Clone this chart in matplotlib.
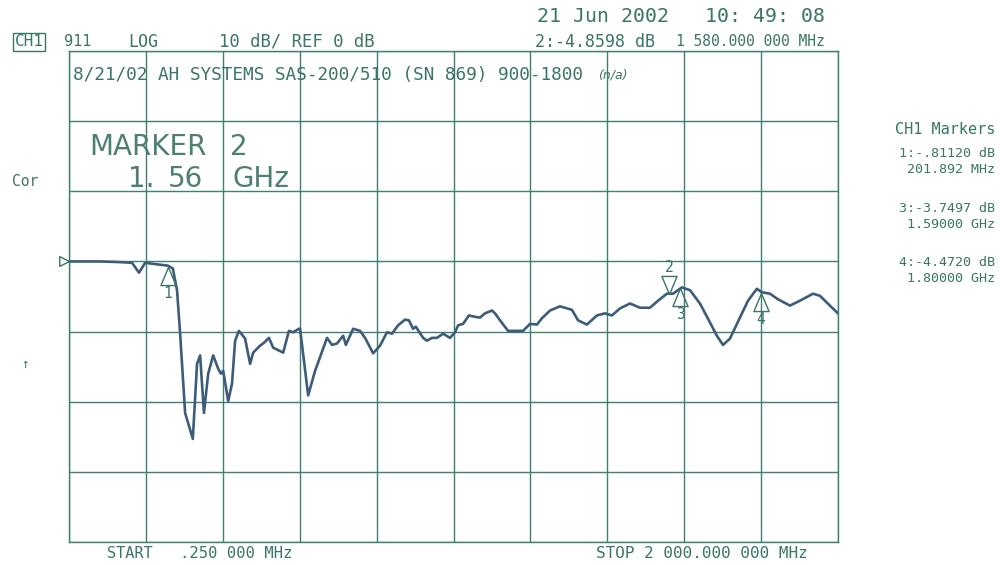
import numpy as np
import matplotlib
matplotlib.use("Agg")
import matplotlib.pyplot as plt
from matplotlib.path import Path

# ---------------- data ----------------
freq_mhz = [0.25, 81, 133, 164, 182, 198, 257, 270, 281, 289, 302, 322, 333, 341,
            351, 362, 375, 388, 395, 401, 414, 424, 432, 442, 458, 471, 479, 497,
            507, 520, 531, 557, 572, 583, 598, 601, 622, 640, 671, 684, 697, 713,
            720, 739, 757, 770, 791, 809, 827, 840, 856, 874, 884, 895, 902, 921,
            931, 944, 957, 973, 991, 1004, 1012, 1025, 1040, 1056, 1069, 1082,
            1100, 1108, 1121, 1142, 1165, 1181, 1199, 1217, 1230, 1251, 1277,
            1308, 1324, 1347, 1373, 1394, 1412, 1433, 1459, 1485, 1511, 1532,
            1555, 1571, 1594, 1615, 1641, 1667, 1685, 1701, 1719, 1745, 1766,
            1789, 1802, 1823, 1844, 1875, 1901, 1935, 1953, 1979, 2000]
mag_db = [0.0, 0.0, -0.1, -0.2, -1.6, -0.2, -0.6, -1.0, -4.1, -10.3, -21.6, -25.3,
          -14.6, -13.4, -21.6, -16.0, -13.4, -15.3, -16.0, -15.6, -19.9, -17.4,
          -11.3, -9.9, -11.0, -14.6, -13.0, -12.0, -11.6, -10.9, -12.3, -13.0,
          -9.9, -10.1, -9.6, -9.6, -19.1, -15.6, -10.9, -11.9, -11.7, -10.6,
          -11.9, -9.6, -9.9, -10.9, -13.1, -12.0, -10.1, -10.3, -9.1, -8.3, -8.4,
          -9.6, -9.3, -10.9, -11.3, -10.9, -10.9, -10.3, -10.9, -10.1, -9.1,
          -8.9, -7.7, -7.9, -8.0, -7.4, -7.0, -7.4, -8.4, -9.9, -9.9, -9.9, -8.9,
          -9.0, -8.1, -7.0, -6.4, -6.9, -8.4, -9.0, -7.7, -7.4, -7.7, -6.7, -6.0,
          -6.6, -6.6, -5.6, -4.6, -4.6, -3.7, -4.1, -6.0, -8.7, -10.6, -11.9,
          -11.0, -8.0, -5.6, -3.9, -4.4, -4.6, -5.4, -6.3, -5.6, -4.6, -4.9,
          -6.3, -7.4]

marker_labels = ["1", "2", "3", "4"]
marker_mhz = [257, 1560, 1590, 1800]
marker_db = [-0.81, -4.66, -3.75, -4.47]

x_start, x_stop = 0.25, 2000.0
ref_db, db_per_div = 0.0, 10.0
y_bottom, y_top = -40.0, 30.0

readout_lines = ["1:-.81120 dB", "201.892 MHz",
                 "3:-3.7497 dB", "1.59000 GHz",
                 "4:-4.4720 dB", "1.80000 GHz"]

# ---------------- style ----------------
GRID = "#3f7f70"
TEXT = "#3a7565"
TRACE = "#3c5c7a"
MONO = "DejaVu Sans Mono"

fig = plt.figure(figsize=(10, 5.65), dpi=100)
fig.patch.set_facecolor("white")
W, H = 1000.0, 565.0
ax = fig.add_axes([69 / W, 1 - 542 / H, 769 / W, 491 / H])
ax.set_xlim(x_start, x_stop)
ax.set_ylim(y_bottom, y_top)
ax.set_xticks(np.linspace(0, 2000, 11))
ax.set_yticks(np.arange(y_bottom, y_top + 1, db_per_div))
ax.tick_params(length=0, labelbottom=False, labelleft=False)
ax.grid(True, color=GRID, linewidth=1.0)
for s in ax.spines.values():
    s.set_color(GRID)
    s.set_linewidth(1.0)

ax.plot(freq_mhz, mag_db, color=TRACE, linewidth=1.9, solid_joinstyle="round", zorder=3)

# marker triangles
up_tri = Path([(0, 0), (-0.42, -1), (0.42, -1), (0, 0)],
              [Path.MOVETO, Path.LINETO, Path.LINETO, Path.CLOSEPOLY])
down_tri = Path([(0, 0), (-0.42, 1), (0.42, 1), (0, 0)],
                [Path.MOVETO, Path.LINETO, Path.LINETO, Path.CLOSEPOLY])
for lab, mx, my in zip(marker_labels, marker_mhz, marker_db):
    if lab == "2":
        ax.plot([mx], [my], marker=down_tri, markersize=26, markerfacecolor="none",
                markeredgecolor=TEXT, markeredgewidth=1.0, zorder=4)
        ax.annotate(lab, (mx, my), xytext=(0, 19), textcoords="offset points",
                    ha="center", va="center", color=TEXT, fontsize=10.5, family=MONO)
    else:
        ax.plot([mx], [my], marker=up_tri, markersize=26, markerfacecolor="none",
                markeredgecolor=TEXT, markeredgewidth=1.0, zorder=4)
        ax.annotate(lab, (mx, my), xytext=(0, -19), textcoords="offset points",
                    ha="center", va="center", color=TEXT, fontsize=10.5, family=MONO)

# reference level pointer
ref_tri = Path([(0, 0), (-1, 0.5), (-1, -0.5), (0, 0)],
               [Path.MOVETO, Path.LINETO, Path.LINETO, Path.CLOSEPOLY])
ax.plot([x_start], [ref_db], marker=ref_tri, markersize=14, markerfacecolor="none",
        markeredgecolor=TEXT, markeredgewidth=1.0, clip_on=False, zorder=4)


def ftext(x, y, s, **kw):
    kw.setdefault("color", TEXT)
    kw.setdefault("va", "center")
    kw.setdefault("family", MONO)
    fig.text(x / W, 1 - y / H, s, **kw)


# header
ftext(537, 17, "21 Jun 2002   10: 49: 08", fontsize=14.3)
ftext(15, 42, "CH1", fontsize=11.5,
      bbox=dict(boxstyle="square,pad=0.1", facecolor="none", edgecolor=TEXT, linewidth=1.0))
ftext(64, 42, "911", fontsize=11)
ftext(128, 42, "LOG", fontsize=12)
ftext(219, 42, "10 dB/ REF 0 dB", fontsize=12.4)
ftext(535, 42, "2:-4.8598 dB", fontsize=12)
ftext(825, 42, "1 580.000 000 MHz", fontsize=10.5, ha="right")

ftext(73, 75, "8/21/02 AH SYSTEMS SAS-200/510 (SN 869) 900-1800", fontsize=12.8)
ftext(598, 75, "(n/a)", fontsize=9, style="italic", family="DejaVu Sans")

BIG = dict(fontsize=20, family="DejaVu Sans", color="#4d7f72")
ftext(89, 147, "MARKER", **BIG)
ftext(230, 147, "2", **BIG)
ftext(128, 179, "1.", **BIG)
ftext(168, 179, "56", **BIG)
ftext(233, 179, "GHz", **BIG)

ftext(12, 182, "Cor", fontsize=10.5)
ftext(21, 365, "\u2191", fontsize=9)

# marker readouts
ftext(995, 129, "CH1 Markers", fontsize=11, ha="right")
ys = [153, 169, 208, 224, 263, 279]
for yy, s in zip(ys, readout_lines):
    ftext(995, yy, s, fontsize=9.6, ha="right")

# footer
ftext(107, 554, "START", fontsize=11)
ftext(180, 554, ".250 000 MHz", fontsize=11.2)
ftext(808, 554, "STOP 2 000.000 000 MHz", fontsize=11.5, ha="right")

fig.savefig("out.png", dpi=100, facecolor="white")
